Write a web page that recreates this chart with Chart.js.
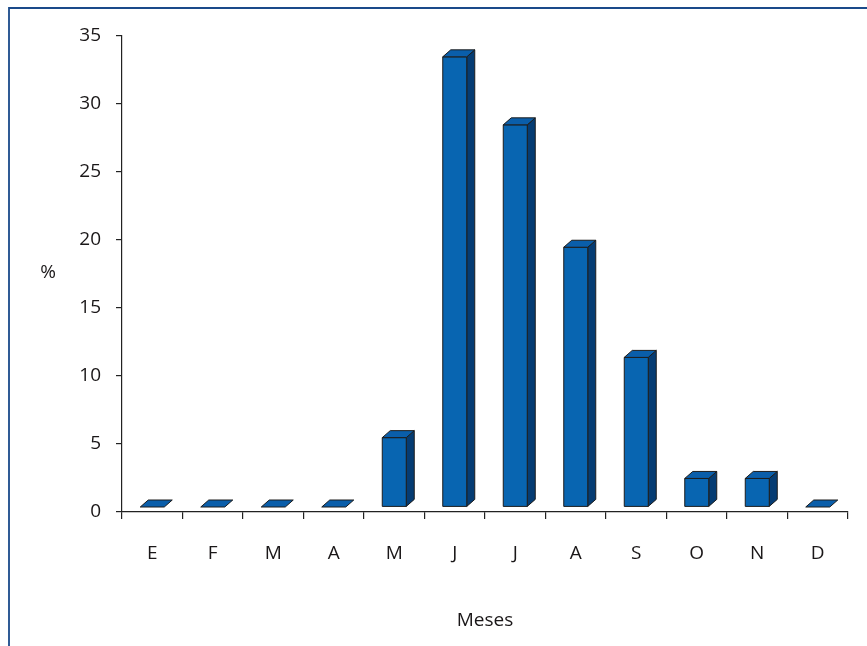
<!DOCTYPE html>
<html>
<head>
<meta charset="utf-8">
<script src="https://cdn.jsdelivr.net/npm/chart.js@4"></script>
<style>
html,body{margin:0;padding:0;background:#fff;overflow:hidden;}
#c{display:block;}
</style>
</head>
<body>
<canvas id="c" width="867" height="646" style="width:867px;height:646px"></canvas>
<script>
const categories = ['E','F','M','A','M','J','J','A','S','O','N','D'];
const percentages = [0, 0, 0, 0, 5.1, 33.1, 28.1, 19.1, 11.0, 2.1, 2.1, 0];
const yTicks = [0, 5, 10, 15, 20, 25, 30, 35];
const xTitle = 'Meses';
const yTitle = '%';

const FONT = '"Open Sans", "Noto Sans", sans-serif';
const TEXT = '#1a1718';
const FRONT = '#0865b1';
const SIDE = '#053c73';
const TOP = '#0a5eaa';
const EDGE = '#1c1c1c';
const DX = 8, DY = 7, LIFT = 5;

const framePlugin = {
  id: 'frame',
  beforeDraw(chart) {
    const ctx = chart.ctx;
    ctx.save();
    ctx.fillStyle = '#fff';
    ctx.fillRect(0, 0, chart.width, chart.height);
    ctx.strokeStyle = '#1a4a8a';
    ctx.lineWidth = 1.8;
    ctx.beginPath();
    ctx.moveTo(9, chart.height);
    ctx.lineTo(9, 8);
    ctx.lineTo(chart.width, 8);
    ctx.stroke();
    ctx.restore();
  }
};

const bars3d = {
  id: 'bars3d',
  afterDatasetsDraw(chart) {
    const ctx = chart.ctx;
    const meta = chart.getDatasetMeta(0);
    ctx.save();
    ctx.lineWidth = 1;
    ctx.strokeStyle = EDGE;
    ctx.lineJoin = 'miter';
    meta.data.forEach((el) => {
      const p = el.getProps(['x', 'y', 'base', 'width'], true);
      const xl = p.x - p.width / 2, xr = p.x + p.width / 2;
      const top = p.y - LIFT, bot = p.base - LIFT;
      const h = bot - top;
      if (h > 0.5) {
        ctx.fillStyle = SIDE;
        ctx.beginPath();
        ctx.moveTo(xr, top); ctx.lineTo(xr + DX, top - DY);
        ctx.lineTo(xr + DX, bot - DY); ctx.lineTo(xr, bot);
        ctx.closePath(); ctx.fill(); ctx.stroke();
        ctx.fillStyle = FRONT;
        ctx.beginPath();
        ctx.rect(xl, top, p.width, h);
        ctx.fill(); ctx.stroke();
      }
      ctx.fillStyle = TOP;
      ctx.beginPath();
      ctx.moveTo(xl, top); ctx.lineTo(xr, top);
      ctx.lineTo(xr + DX, top - DY); ctx.lineTo(xl + DX, top - DY);
      ctx.closePath(); ctx.fill(); ctx.stroke();
    });
    ctx.restore();
  }
};

const titlesPlugin = {
  id: 'titles',
  afterDraw(chart) {
    const ctx = chart.ctx, a = chart.chartArea;
    ctx.save();
    ctx.fillStyle = TEXT;
    ctx.font = '19px ' + FONT;
    ctx.textAlign = 'center';
    ctx.textBaseline = 'middle';
    ctx.fillText(yTitle, 48, (a.top + a.bottom) / 2 - 1);
    ctx.fillText(xTitle, (a.left + a.right) / 2, 621);
    ctx.restore();
  }
};

new Chart(document.getElementById('c'), {
  type: 'bar',
  data: {
    labels: categories,
    datasets: [{
      data: percentages,
      backgroundColor: 'rgba(0,0,0,0)',
      borderWidth: 0,
      barThickness: 24
    }]
  },
  options: {
    responsive: false,
    animation: false,
    devicePixelRatio: 1,
    layout: { padding: { top: 36, right: 19, left: 0, bottom: 0 } },
    plugins: { legend: { display: false }, tooltip: { enabled: false } },
    scales: {
      x: {
        offset: true,
        grid: { display: true, drawOnChartArea: false, offset: true, tickLength: 7, color: '#222', lineWidth: 1.2 },
        border: { display: true, color: '#222', width: 1.2 },
        ticks: { color: TEXT, font: { size: 19, family: FONT }, padding: 23, maxRotation: 0 },
        afterFit(s) { s.height = 134; }
      },
      y: {
        min: 0, max: 35,
        afterBuildTicks(s) { s.ticks = yTicks.map(v => ({ value: v })); },
        grid: { display: true, drawOnChartArea: false, tickLength: 6, color: '#222', lineWidth: 1.2 },
        border: { display: true, color: '#222', width: 1.2 },
        ticks: { color: TEXT, font: { size: 19, family: FONT }, padding: 15 },
        afterFit(s) { s.width = 122; }
      }
    }
  },
  plugins: [framePlugin, bars3d, titlesPlugin]
});
</script>
</body>
</html>
